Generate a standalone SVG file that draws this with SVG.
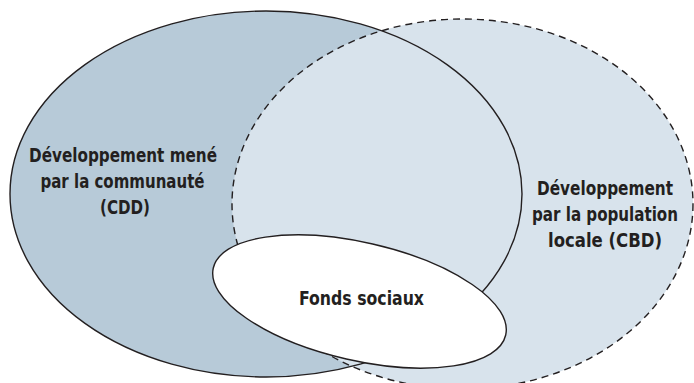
<svg xmlns="http://www.w3.org/2000/svg" width="694" height="383" viewBox="0 0 694 383">
<style>
.lbl{font-family:"Liberation Sans Narrow","DejaVu Sans Condensed","Liberation Sans",Arial,sans-serif;font-weight:bold;font-size:20px;fill:#231f20;text-anchor:middle}
.solid{fill:none;stroke:#231f20;stroke-width:1.4}
.dash{fill:none;stroke:#231f20;stroke-width:1.4;stroke-dasharray:7 5}
</style>
<rect width="694" height="383" fill="#ffffff"/>
<g id="cdd">
<ellipse cx="266" cy="194" rx="256" ry="183" fill="#b7cad8"/>
</g>
<g id="cbd">
<ellipse cx="462.5" cy="204" rx="230.5" ry="185" fill="#d8e3ec"/>
<ellipse class="dash" cx="462.5" cy="204" rx="230.5" ry="185"/>
</g>
<ellipse class="solid" cx="266" cy="194" rx="256" ry="183"/>
<g id="fonds">
<ellipse cx="0" cy="0" rx="150" ry="59" transform="translate(359.5 301.5) rotate(12.9)" fill="#ffffff" stroke="#231f20" stroke-width="1.4"/>
<text class="lbl" x="361.5" y="305" textLength="125" lengthAdjust="spacingAndGlyphs">Fonds sociaux</text>
</g>
<g id="cdd-label">
<text class="lbl" x="123" y="162" textLength="188" lengthAdjust="spacingAndGlyphs">Développement mené</text>
<text class="lbl" x="122.5" y="188" textLength="164" lengthAdjust="spacingAndGlyphs">par la communauté</text>
<text class="lbl" x="125" y="214" textLength="50" lengthAdjust="spacingAndGlyphs">(CDD)</text>
</g>
<g id="cbd-label">
<text class="lbl" x="605" y="195" textLength="136" lengthAdjust="spacingAndGlyphs">Développement</text>
<text class="lbl" x="605" y="221" textLength="146" lengthAdjust="spacingAndGlyphs">par la population</text>
<text class="lbl" x="605" y="247" textLength="114" lengthAdjust="spacingAndGlyphs">locale (CBD)</text>
</g>
<g id="connectors"></g>
</svg>
